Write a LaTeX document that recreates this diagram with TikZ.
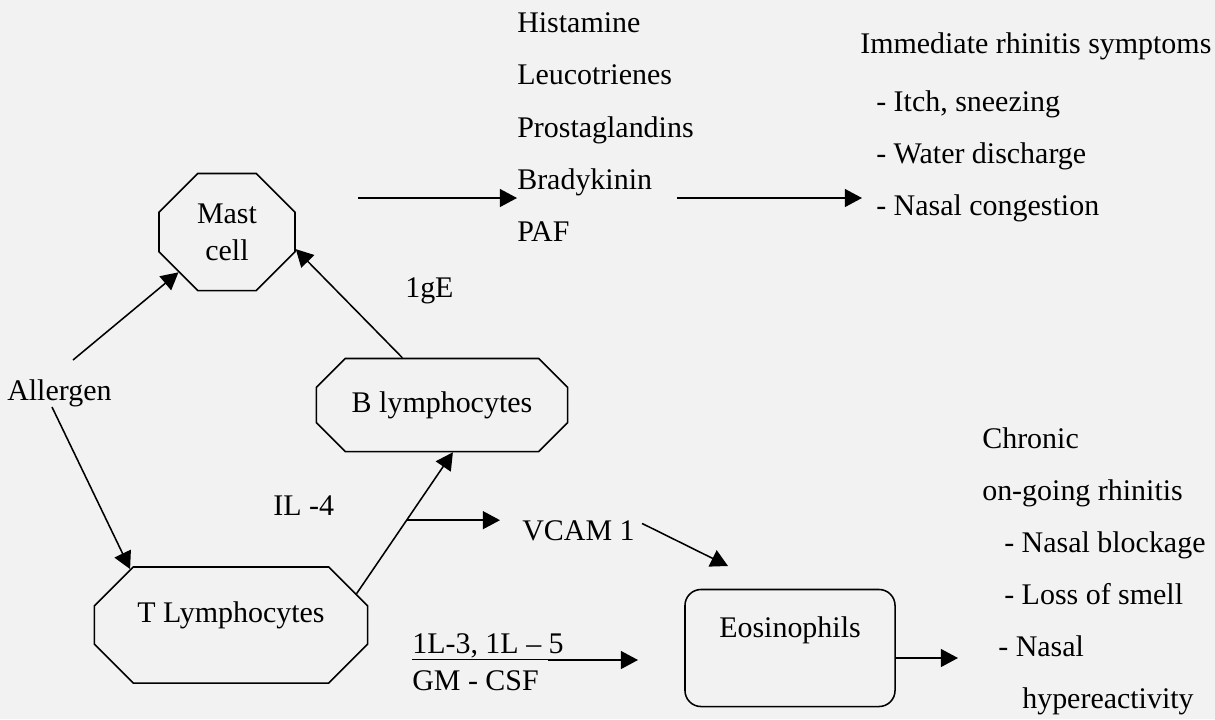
\documentclass[tikz,border=0pt]{standalone}
\usepackage{fontspec}
\setmainfont{Liberation Serif}
\usetikzlibrary{arrows.meta}
\usetikzlibrary{positioning}
\usetikzlibrary{shapes.misc}
\tikzset {
  % outline of a cell
  cell/.style = {
    draw = black,
    line width = 1.1pt,
    inner sep = 0,
    align = center
  },
  % octagon cell, #1 = size of the cut corner
  oct/.style = {
    cell,
    chamfered rectangle,
    chamfered rectangle xsep = #1,
    chamfered rectangle ysep = #1
  },
  % rounded cell
  rcell/.style = {
    cell,
    rectangle,
    rounded corners = 0.4cm
  },
  % pushes the text up inside its cell
  lifted/.style = {
    text height = 0.525cm,
    text depth = #1
  },
  % free text
  txt/.style = {
    inner sep = 0,
    align = left
  },
  % path style with an arrow tip
  arr/.style = {
    draw = black,
    line width = 1.1pt,
    -{Triangle[length = 0.43cm, width = 0.45cm]}
  }
}
\begin{document}
\begin{tikzpicture}[x = 0.025cm, y = -0.025cm,
    font = \fontsize{21.3}{37.3}\selectfont]
  \path[fill = black!5] (0,0) rectangle (1215,719);

  % cells
  \node[oct = 0.485cm, minimum width = 3.4cm, minimum height = 2.925cm,
    font = \fontsize{21.3}{26.3}\selectfont] (mast) at (227,232) {Mast\\cell};
  \node[oct = 0.38cm, minimum width = 6.275cm, minimum height = 2.325cm]
    (bcell) at (442,405) {B lymphocytes};
  \node[oct = 0.485cm, minimum width = 6.825cm, minimum height = 2.9cm,
    lifted = 0.65cm] (tcell) at (231,625) {T Lymphocytes};
  \node[rcell, minimum width = 5.25cm, minimum height = 2.925cm,
    lifted = 1.05cm] (eos) at (790,648) {Eosinophils};

  % texts
  \node[txt, anchor = base west] (allergen) at (7,400) {Allergen};
  \node[txt, anchor = north west] (mediators) at (517,12)
    {Histamine\\Leucotrienes\\Prostaglandins\\Bradykinin\\PAF};
  \node[txt, anchor = base west] (immediate) at (860,53)
    {Immediate rhinitis symptoms};
  \node[txt, anchor = north west] (acute) at (876,90)
    {- Itch, sneezing\\- Water discharge\\- Nasal congestion};
  \node[txt, anchor = base west] (ige) at (405,297) {1gE};
  \node[txt, anchor = base west] (il4) at (273,515) {IL -4};
  \node[txt, anchor = base west] (vcam) at (522,540) {VCAM 1};
  \node[txt, anchor = north west, font = \fontsize{21.3}{26.3}\selectfont]
    (cytokines) at (412,633) {\underline{1L-3, 1L – 5}\\GM - CSF};
  \node[txt, anchor = north west, font = \fontsize{21.3}{37}\selectfont]
    (chronic) at (982,427)
    {Chronic\\on-going rhinitis\\\hspace*{0.55cm}- Nasal blockage\\
     \hspace*{0.55cm}- Loss of smell\\\hspace*{0.4cm}- Nasal\\
     \hspace*{1cm}hypereactivity};

  % free ends
  \coordinate (allergen-up) at (73,360);
  \coordinate (allergen-down) at (52,407);
  \coordinate (mast-out) at (358,198);
  \coordinate (mediators-out) at (677,198);
  \coordinate (vcam-tip) at (728,566);
  \coordinate (cytokines-out) at (548,660);
  \coordinate (eos-in) at (638,660);
  \coordinate (eos-out) at (958,658);

  \draw[arr] (allergen-up) -- (mast);
  \draw[arr] (allergen-down) -- (tcell.151);
  \draw[arr] (bcell.130) -- (mast.346);
  \draw[arr] (tcell.14) -- coordinate[pos = 0.52] (il4-split) (bcell.283);
  \draw[arr, shorten > = 0.55cm] (il4-split) -- (il4-split -| vcam.west);
  \draw[arr, shorten <= 0.2cm] (vcam.north east) -- (vcam-tip);

  \draw[arr] (mast-out) -- (mast-out -| mediators.west);
  \draw[arr, shorten > = 0.35cm] (mediators-out) -- (mediators-out -| acute.west);

  \draw[arr] (cytokines-out) -- (eos-in);
  \draw[arr] (eos-out -| eos.east) -- (eos-out);
\end{tikzpicture}
\end{document}
